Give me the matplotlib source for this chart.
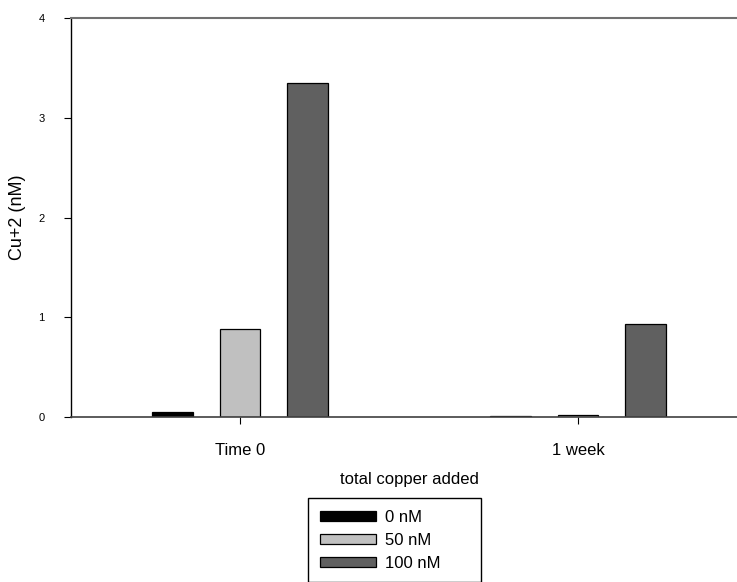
import matplotlib
matplotlib.use("Agg")
import matplotlib.pyplot as plt
import numpy as np

plt.rcParams['font.family'] = ['Liberation Sans', 'DejaVu Sans']

categories = ["Time 0", "1 week"]
series_names = ["0 nM", "50 nM", "100 nM"]
values_0nM = [0.055, 0.01]
values_50nM = [0.88, 0.02]
values_100nM = [3.35, 0.93]
colors = ["#000000", "#c0c0c0", "#606060"]
yticks = [0, 1, 2, 3, 4]

fig = plt.figure(figsize=(7.37, 5.82), dpi=100)
ax = fig.add_axes([71/737, 1 - 417/582, 676/737, 399/582])

x = np.arange(len(categories))
width = 0.12
offsets = [-0.2, 0.0, 0.2]
handles = []
for vals, off, col, name in zip([values_0nM, values_50nM, values_100nM], offsets, colors, series_names):
    h = ax.bar(x + off, vals, width, color=col, edgecolor="black", linewidth=0.9, label=name)
    handles.append(h)

ax.set_xlim(-0.5, 1.5)
ax.set_ylim(0, 4)
ax.set_yticks(yticks)
ax.set_yticklabels([str(t) for t in yticks], fontsize=8)
ax.set_xticks(x)
ax.set_xticklabels(categories, fontsize=12)
ax.tick_params(axis='y', direction='out', length=5, width=0.8, pad=14)
ax.tick_params(axis='x', direction='out', length=5, width=0.8, pad=14)

ax.spines['right'].set_visible(False)
ax.spines['top'].set_color('#707070')
ax.spines['top'].set_linewidth(1.5)
ax.spines['bottom'].set_color('#404040')
ax.spines['bottom'].set_linewidth(1.2)
ax.spines['left'].set_color('black')
ax.spines['left'].set_linewidth(1.0)

ax.set_ylabel("Cu+2 (nM)", fontsize=13, labelpad=9)
ax.set_xlabel("total copper added", fontsize=12, labelpad=10)

leg = fig.legend(handles=handles, labels=series_names, loc='upper left',
                 bbox_to_anchor=(308/737, 0, 173/737, 1 - 498/582), mode='expand',
                 ncol=1, fontsize=12,
                 frameon=True, fancybox=False, edgecolor='black', framealpha=1,
                 handlelength=3.4, handleheight=0.5, handletextpad=0.5,
                 labelspacing=0.48, borderpad=0.7, borderaxespad=0)
leg.get_frame().set_linewidth(1.0)

fig.savefig("out.png", dpi=100)
